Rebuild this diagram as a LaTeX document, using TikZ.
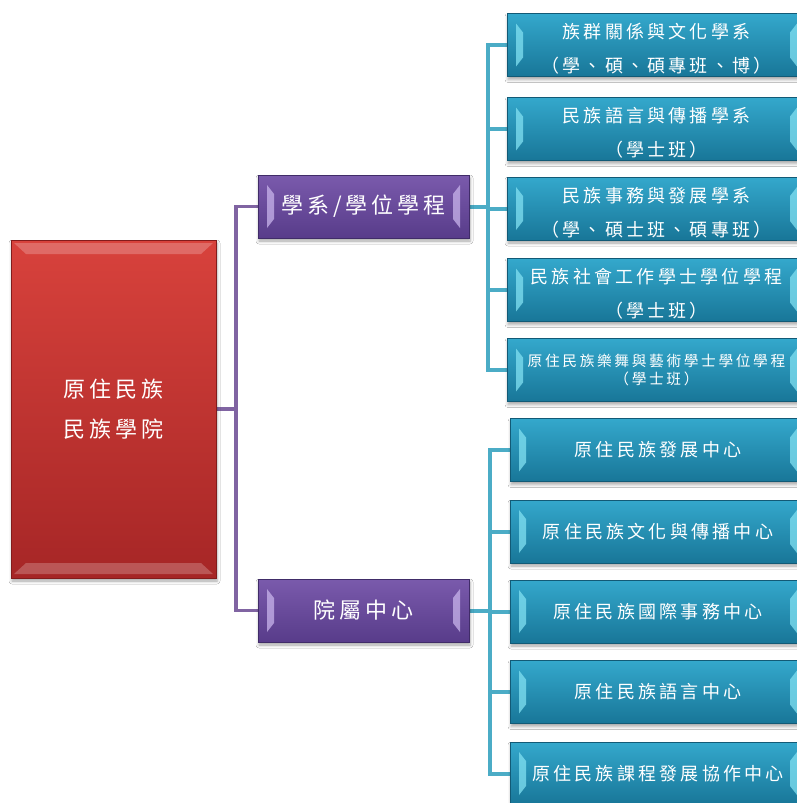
\documentclass[tikz,border=0pt]{standalone}
\usepackage{fontspec}
\newfontfamily\cjk[LetterSpace=18]{Noto Sans CJK TC}
\usetikzlibrary{calc,shadows.blur,backgrounds}
\definecolor{pline}{RGB}{128,100,162}
\definecolor{bline}{RGB}{75,172,198}
\definecolor{redtop}{RGB}{216,66,60}
\definecolor{redbot}{RGB}{166,38,38}
\definecolor{redrim}{RGB}{130,28,28}
\definecolor{purtop}{RGB}{122,90,172}
\definecolor{purbot}{RGB}{88,60,138}
\definecolor{purrim}{RGB}{64,44,104}
\definecolor{purlite}{RGB}{200,180,235}
\definecolor{blutop}{RGB}{52,168,204}
\definecolor{blubot}{RGB}{24,118,152}
\definecolor{blurim}{RGB}{18,90,118}
\definecolor{blulite}{RGB}{130,225,242}
\tikzset{
  boxbase/.style={rectangle, inner sep=0pt, text=white, align=center,
    blur shadow={shadow xshift=1pt, shadow yshift=-3pt, shadow blur radius=3pt, shadow opacity=35}},
  sidebevel/.style={path picture={
    \fill[#1] let \p1=(path picture bounding box.north west), \p2=(path picture bounding box.south east) in
      (\x1+9pt,\y1-10pt) -- (\x1+16pt,\y1-19pt) -- (\x1+16pt,\y2+19pt) -- (\x1+9pt,\y2+10pt) -- cycle
      (\x2-9pt,\y1-10pt) -- (\x2-16pt,\y1-19pt) -- (\x2-16pt,\y2+19pt) -- (\x2-9pt,\y2+10pt) -- cycle;}},
  endbevel/.style={path picture={
    \fill[#1] let \p1=(path picture bounding box.north west), \p2=(path picture bounding box.south east) in
      (\x1+3pt,\y1-3pt) -- (\x2-3pt,\y1-3pt) -- (\x2-15pt,\y1-14pt) -- (\x1+15pt,\y1-14pt) -- cycle
      (\x1+3pt,\y2+4pt) -- (\x2-3pt,\y2+4pt) -- (\x2-15pt,\y2+15pt) -- (\x1+15pt,\y2+15pt) -- cycle;}},
  redbox/.style={boxbase, minimum width=205pt, minimum height=338pt, top color=redtop, bottom color=redbot,
    draw=redrim, line width=.6pt, endbevel={white,opacity=.22}, font=\cjk\fontsize{22}{40}\selectfont},
  purplebox/.style={boxbase, minimum width=211pt, minimum height=63pt, top color=purtop, bottom color=purbot,
    draw=purrim, line width=.6pt, sidebevel={purlite,opacity=.75}, font=\cjk\fontsize{22}{30}\selectfont},
  bluebox/.style={boxbase, minimum width=299pt, minimum height=63pt, top color=blutop, bottom color=blubot,
    draw=blurim, line width=.6pt, sidebevel={blulite,opacity=.75}, font=\cjk\fontsize{18}{34}\selectfont},
  bluetext/.style={inner sep=0pt, text=white, align=center, font=\cjk\fontsize{18}{34}\selectfont},
  smalltext/.style={font=\cjk\fontsize{14.7}{18}\selectfont},
  pconn/.style={draw=pline, line width=3.5pt},
  bconn/.style={draw=bline, line width=4pt},
}
\begin{document}
\begin{tikzpicture}[x=1pt,y=-1pt]
\useasboundingbox (0,0) rectangle (797,803);
% root
\node[redbox] (red) at (113.5,409) {原住民族\\民族學院};
% second level
\node[purplebox] (p1) at (363.5,206.5) {學系/學位學程};
\node[purplebox] (p2) at (363.5,610.5) {院屬中心};
% departments
\node[bluebox] (b1) at (656.5,45) {};
\node[bluebox] (b2) at (656.5,129) {};
\node[bluebox] (b3) at (656.5,208.5) {};
\node[bluebox] (b4) at (656.5,290) {};
\node[bluebox, smalltext] (b5) at (656.5,370) {原住民族樂舞與藝術學士學位學程\\（學士班）};
\node[bluetext] (t1) at ([yshift=-4pt]b1.center) {族群關係與文化學系\\（學、碩、碩專班、博）};
\node[bluetext] (t2) at ([yshift=-4pt]b2.center) {民族語言與傳播學系\\（學士班）};
\node[bluetext] (t3) at ([yshift=-4pt]b3.center) {民族事務與發展學系\\（學、碩士班、碩專班）};
\node[bluetext] (t4) at ([yshift=-4pt]b4.center) {民族社會工作學士學位學程\\（學士班）};
% centers
\node[bluebox, minimum width=296pt] (b6) at (658,450) {原住民族發展中心};
\node[bluebox, minimum width=296pt] (b7) at (658,531.5) {原住民族文化與傳播中心};
\node[bluebox, minimum width=296pt] (b8) at (658,611.5) {原住民族國際事務中心};
\node[bluebox, minimum width=296pt] (b9) at (658,692) {原住民族語言中心};
\node[bluebox, minimum width=296pt] (b10) at (658,773.5) {原住民族課程發展協作中心};
\begin{pgfonlayer}{background}
  \fill[white] (0,0) rectangle (797,803);
  \coordinate (pj) at (236,409);
  \draw[pconn] (red.east) -- (pj);
  \draw[pconn] (pj) |- (p1.west);
  \draw[pconn] (pj) |- (p2.west);
  \coordinate (bj1) at (488,206.5);
  \draw[bconn] (p1.east) -- (bj1);
  \foreach \i in {1,...,5} \draw[bconn] (bj1) |- (b\i.west);
  \coordinate (bj2) at (489.5,610.5);
  \draw[bconn] (p2.east) -- (bj2);
  \foreach \i in {6,...,10} \draw[bconn] (bj2) |- (b\i.west);
\end{pgfonlayer}
\end{tikzpicture}
\end{document}
